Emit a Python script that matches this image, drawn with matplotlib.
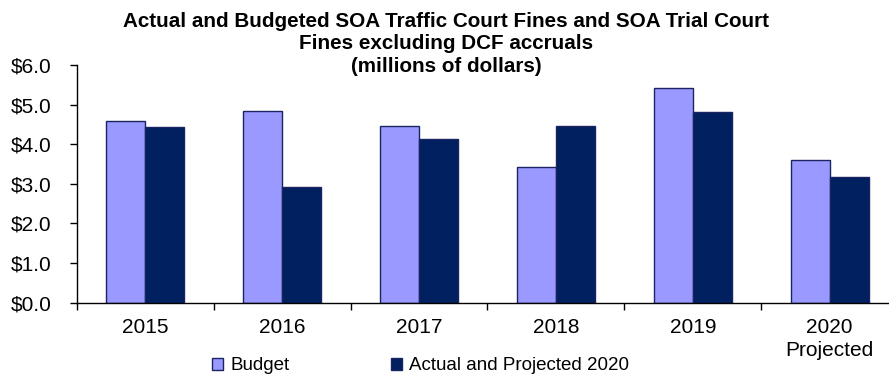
import matplotlib
matplotlib.use("Agg")
import matplotlib.pyplot as plt
import numpy as np

years = ["2015", "2016", "2017", "2018", "2019", "2020\nProjected"]
budget = [4.59, 4.83, 4.45, 3.42, 5.41, 3.59]
actual = [4.43, 2.93, 4.13, 4.47, 4.81, 3.18]
y_ticks = [0.0, 1.0, 2.0, 3.0, 4.0, 5.0, 6.0]

plt.rcParams["font.family"] = ["Liberation Sans", "DejaVu Sans"]

fig = plt.figure(figsize=(8.89, 3.85), dpi=100)
ax = fig.add_axes([0.0863, 0.2138, 0.924, 0.6174])

x = np.arange(len(years))
w = 0.285
edge = "#1a2460"
b1 = ax.bar(x - w / 2, budget, w, color="#9999FF", edgecolor=edge, linewidth=1.0,
            label="Budget")
b2 = ax.bar(x + w / 2, actual, w, color="#002060", edgecolor=edge, linewidth=1.0,
            label="Actual and Projected 2020")

ax.set_xlim(-0.5, len(years) - 0.5)
ax.set_ylim(0, 6)
ax.set_yticks(y_ticks)
ax.set_yticklabels([f"${v:.1f}" for v in y_ticks], fontsize=15)
ax.set_xticks(x)
ax.set_xticklabels(years, fontsize=15, linespacing=1.3)
ax.set_xticks(np.arange(-0.5, len(years)), minor=True)
ax.tick_params(axis="x", which="major", length=0, pad=11)
ax.tick_params(axis="x", which="minor", length=5, width=1, direction="out")
ax.tick_params(axis="y", length=5, width=1, direction="out", pad=13)

for s in ["top", "right"]:
    ax.spines[s].set_visible(False)
for s in ["left", "bottom"]:
    ax.spines[s].set_linewidth(1.0)
    ax.spines[s].set_color("black")

title_lines = ["Actual and Budgeted SOA Traffic Court Fines and SOA Trial Court",
               "Fines excluding DCF accruals",
               "(millions of dollars)"]
for line, yb in zip(title_lines, [0.930, 0.873, 0.814]):
    fig.text(0.502, yb, line, ha="center", va="baseline",
             fontsize=14.9, fontweight="bold")

fig.legend(handles=[b1, b2], loc="center left", bbox_to_anchor=(212 / 889, 0.05),
           ncol=2, frameon=False, fontsize=13.5, handlelength=0.6, handleheight=0.6,
           handletextpad=0.37, columnspacing=5.4, borderpad=0, borderaxespad=0)

fig.savefig("out.png", dpi=100)
